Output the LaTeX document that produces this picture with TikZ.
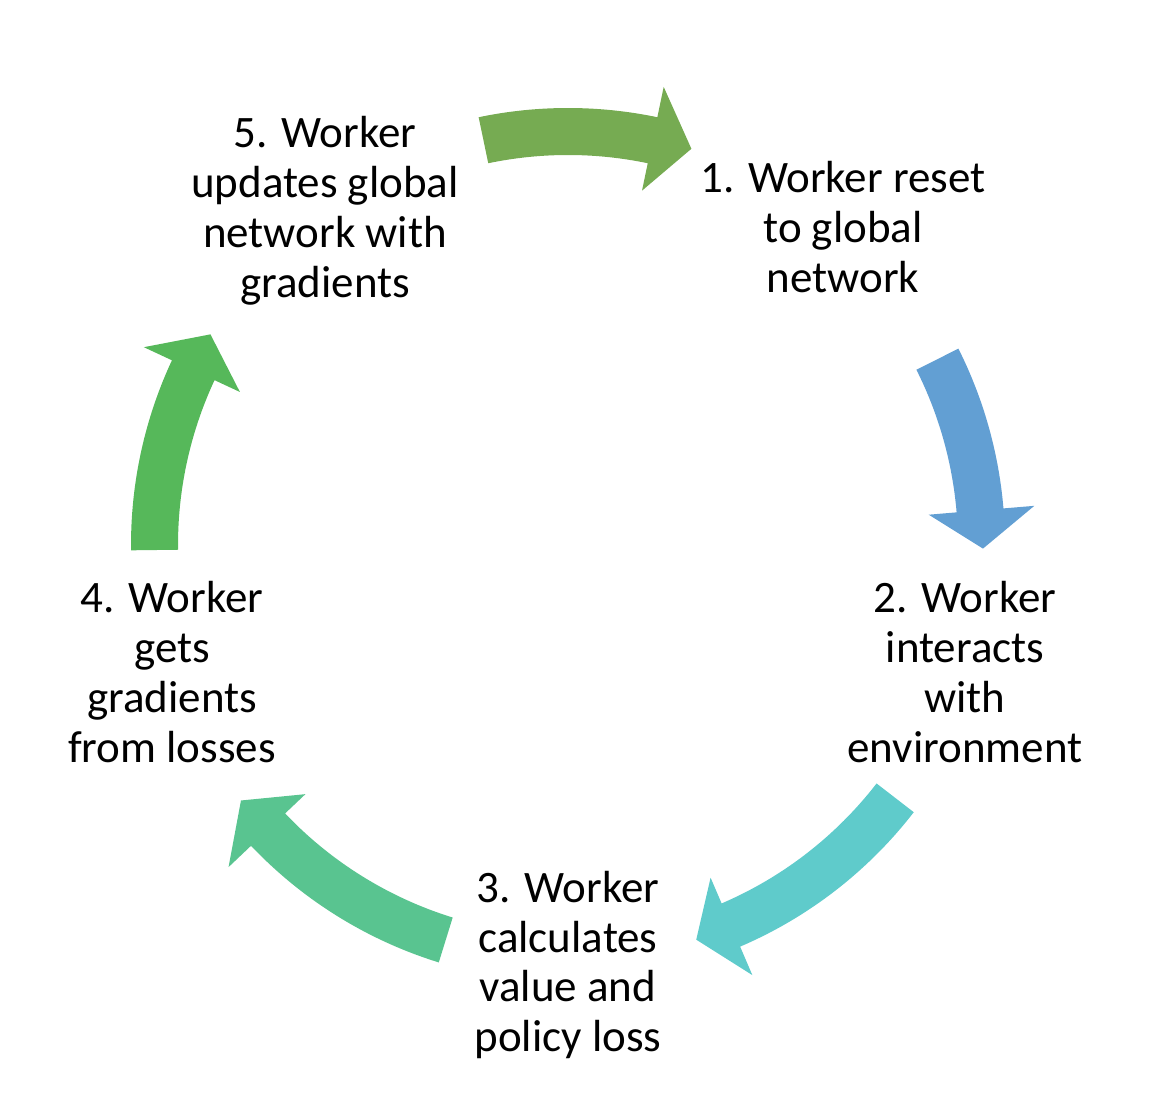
\documentclass[tikz,border=0pt]{standalone}
\usepackage{fontspec}
\setmainfont{Carlito}
\usepackage{xcolor}
\usepackage{tikz}

\definecolor{stepblue}{HTML}{629FD3}
\definecolor{stepcyan}{HTML}{5FCBCB}
\definecolor{stepteal}{HTML}{59C490}
\definecolor{stepgreen}{HTML}{56B85A}
\definecolor{stepolive}{HTML}{76AB52}

\newcommand{\cyclearrow}[4]{%
  \fill[#1] ([shift={(#2:4.37)}]ctr) arc[start angle=#2, end angle=#3, radius=4.37]
    -- ([shift={(#3:4.68)}]ctr) -- ([shift={(#4:4.15)}]ctr) -- ([shift={(#3:3.62)}]ctr)
    -- ([shift={(#3:3.90)}]ctr) arc[start angle=#3, end angle=#2, radius=3.90] -- cycle;
}

\begin{document}
\begin{tikzpicture}[
  stage/.style={align=center, inner sep=0pt, font=\fontsize{12.8}{14.2}\selectfont}
]
\useasboundingbox (0,0) rectangle (11.6,11.12);
\coordinate (ctr) at (5.68,5.67);

\node[stage] (s1) at (8.43,8.85) {1. Worker reset\\to global\\network};
\node[stage] (s2) at (9.65,4.40) {2. Worker\\interacts\\with\\environment};
\node[stage] (s3) at (5.68,1.47) {3. Worker\\calculates\\value and\\policy loss};
\node[stage] (s4) at (1.72,4.40) {4. Worker\\gets\\gradients\\from losses};
\node[stage] (s5) at (3.25,9.01) {5. Worker\\updates global\\network with\\gradients};

\cyclearrow{stepolive}{101.8}{78.2}{72.7}
\cyclearrow{stepblue}{26.7}{4.8}{-0.5}
\cyclearrow{stepcyan}{-37.7}{-66.8}{-72.0}
\cyclearrow{stepteal}{-107.2}{-136.5}{-142.0}
\cyclearrow{stepgreen}{180.7}{155.0}{149.5}
\end{tikzpicture}
\end{document}
